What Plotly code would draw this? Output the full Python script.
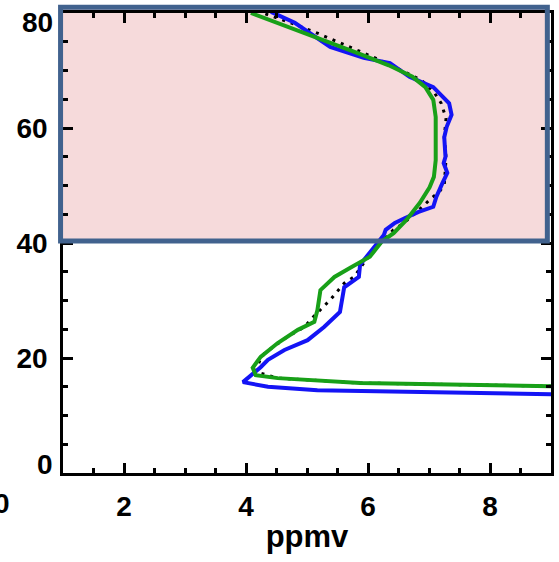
import plotly.graph_objects as go

# ---- data (ppmv vs altitude km) ----
blue_x = [9.6, 8.99, 5.87, 5.17, 4.36, 3.95, 4.24, 4.36, 4.63, 5.01, 5.28, 5.54, 5.61, 5.85, 5.87,
          6.15, 6.26, 6.29, 6.44, 6.60, 6.83, 7.07, 7.12, 7.22, 7.30, 7.24, 7.27, 7.25, 7.29, 7.37,
          7.33, 7.07, 6.68, 6.36, 5.93, 5.38, 5.06, 4.80, 4.41]
blue_y = [13.6, 13.7, 14.3, 14.4, 15.0, 15.8, 18.4, 19.7, 21.4, 23.1, 25.4, 28.0, 32.3, 34.1, 36.2,
          40.0, 41.4, 42.3, 43.5, 44.3, 45.4, 46.3, 48.0, 50.4, 52.2, 53.9, 55.0, 58.4, 60.2, 62.3,
          64.3, 67.1, 68.9, 71.3, 72.2, 74.1, 76.5, 78.3, 80.2]

green_x = [9.6, 8.99, 5.87, 4.52, 4.16, 4.11, 4.24, 4.52, 4.85, 5.12, 5.17, 5.22, 5.45, 5.71, 6.03,
           6.23, 6.42, 6.63, 6.85, 7.01, 7.08, 7.11, 7.11, 7.11, 7.07, 6.94, 6.73, 6.34, 5.81, 4.08]
green_y = [15.0, 15.1, 15.65, 16.5, 17.0, 18.3, 20.2, 22.6, 24.9, 26.3, 28.3, 31.8, 34.1, 35.7, 37.6,
           40.3, 41.7, 44.0, 47.0, 49.7, 51.5, 54.4, 58.4, 61.9, 64.9, 67.1, 68.9, 70.9, 73.1, 80.0]

dot_x = [9.6, 8.99, 5.87, 4.52, 4.16, 4.23, 4.31, 4.68, 4.96, 5.09, 5.38, 5.61, 5.77, 5.93, 6.23,
         6.42, 6.59, 6.80, 7.04, 7.17, 7.25, 7.28, 7.25, 7.28, 7.20, 7.09, 6.88, 6.20, 5.74, 5.17,
         4.73, 4.28]
dot_y = [15.0, 15.1, 15.65, 16.5, 17.6, 19.7, 20.9, 23.7, 25.4, 27.0, 30.1, 33.0, 34.1, 36.5, 40.3,
         42.3, 43.5, 45.4, 47.8, 48.9, 50.1, 54.8, 58.4, 61.7, 64.3, 66.1, 68.3, 71.8, 73.9, 76.5,
         78.3, 80.0]

x_range = [1, 9]
y_range = [0, 80]
x_tickvals = [2, 4, 6, 8]
x_ticktext = ["2", "4", "6", "8"]
y_tickvals = [0, 20, 40, 60, 80]
y_ticktext = ["", "20", "40", "60", ""]
band = [40.35, 81.0]          # highlighted altitude band
band_x = [0.96, 8.94]
x_title = "ppmv"

FONT = "Liberation Sans, Arial, sans-serif"

def px(v):
    return (v - x_range[0]) / (x_range[1] - x_range[0])

def py(v):
    return (v - y_range[0]) / (y_range[1] - y_range[0])

fig = go.Figure()
fig.add_trace(go.Scatter(x=dot_x, y=dot_y, mode="lines",
                         line=dict(color="black", width=3, dash="3px,6px")))
fig.add_trace(go.Scatter(x=blue_x, y=blue_y, mode="lines",
                         line=dict(color="#1414F5", width=4)))
fig.add_trace(go.Scatter(x=green_x, y=green_y, mode="lines",
                         line=dict(color="#18A018", width=4)))

# highlighted band: fill below, border above
fig.add_shape(type="rect", xref="paper", yref="paper",
              x0=px(band_x[0]), x1=px(band_x[1]), y0=py(band[0]), y1=py(band[1]),
              fillcolor="#F6DADB", line=dict(width=0), layer="below")
fig.add_shape(type="rect", xref="paper", yref="paper",
              x0=px(band_x[0]), x1=px(band_x[1]), y0=py(band[0]), y1=py(band[1]),
              fillcolor="rgba(0,0,0,0)", line=dict(color="#41628E", width=5), layer="above")

tickfont = dict(family=FONT, size=28, color="black", weight="bold")

fig.update_xaxes(range=x_range, tickmode="array", tickvals=x_tickvals, ticktext=x_ticktext,
                 ticks="inside", ticklen=10, tickwidth=2.5, tickcolor="black",
                 showline=True, linewidth=2.5, linecolor="black", mirror="ticks",
                 showgrid=False, zeroline=False, tickfont=tickfont, ticklabelstandoff=7,
                 minor=dict(dtick=0.5, tick0=0, ticks="inside", ticklen=5, tickwidth=2.5,
                            tickcolor="black", showgrid=False),
                 title=dict(text=x_title, font=dict(family=FONT, size=31, color="black", weight="bold"),
                            standoff=4))
fig.update_yaxes(range=y_range, tickmode="array", tickvals=y_tickvals, ticktext=y_ticktext,
                 ticks="inside", ticklen=10, tickwidth=2.5, tickcolor="black",
                 showline=True, linewidth=2.5, linecolor="black", mirror="ticks",
                 showgrid=False, zeroline=False, tickfont=tickfont, ticklabelstandoff=7,
                 minor=dict(dtick=5, tick0=0, ticks="inside", ticklen=5, tickwidth=2.5,
                            tickcolor="black", showgrid=False))

# end labels drawn slightly inside, as in the original
ann_font = dict(family=FONT, size=28, color="black", weight="bold")
fig.add_annotation(text="0", xref="paper", yref="paper", x=0, y=py(0), xanchor="right",
                   yanchor="middle", xshift=-8, yshift=9, showarrow=False, font=ann_font)
fig.add_annotation(text="80", xref="paper", yref="paper", x=0, y=py(80), xanchor="right",
                   yanchor="middle", xshift=-8, yshift=-9, showarrow=False, font=ann_font)
fig.add_annotation(text="0", xref="paper", yref="paper", x=px(0), y=0, xanchor="center",
                   yanchor="top", yshift=-13, showarrow=False, font=ann_font)

fig.update_layout(width=559, height=562, margin=dict(l=63, r=5, t=13, b=89),
                  paper_bgcolor="white", plot_bgcolor="white", showlegend=False)

fig.write_html("out.html")
